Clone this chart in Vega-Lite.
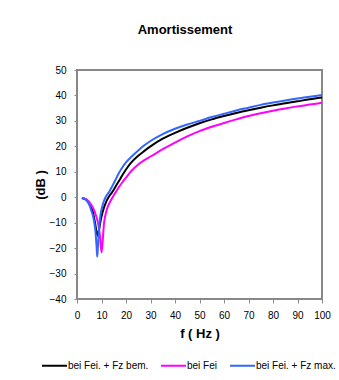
{
  "$schema": "https://vega.github.io/schema/vega-lite/v6.json",
  "autosize": {"type": "none"},
  "width": 245,
  "height": 229,
  "padding": {"left": 77, "top": 70, "right": 17, "bottom": 81},
  "background": "white",
  "title": {"text": "Amortissement", "font": "Liberation Sans", "fontSize": 13, "fontWeight": "bold", "color": "black", "anchor": "middle", "frame": "bounds", "offset": 28},
  "config": {
    "view": {"stroke": "#888888", "strokeWidth": 2},
    "axis": {"labelFont": "Liberation Sans", "titleFont": "Liberation Sans", "labelFontSize": 10, "titleFontSize": 13, "titleFontWeight": "bold", "labelColor": "black", "titleColor": "black", "domainColor": "#888888", "tickColor": "#888888", "grid": false},
    "legend": {"labelFont": "Liberation Sans", "labelFontSize": 10, "labelColor": "black"}
  },
  "data": {"values": [
    {"f": 2, "s": "bei Fei. + Fz bem.", "v": -0.3},
    {"f": 3, "s": "bei Fei. + Fz bem.", "v": -0.6},
    {"f": 4, "s": "bei Fei. + Fz bem.", "v": -1.1},
    {"f": 5, "s": "bei Fei. + Fz bem.", "v": -2.2},
    {"f": 5.5, "s": "bei Fei. + Fz bem.", "v": -3.1},
    {"f": 6, "s": "bei Fei. + Fz bem.", "v": -4.3},
    {"f": 6.5, "s": "bei Fei. + Fz bem.", "v": -5.9},
    {"f": 7, "s": "bei Fei. + Fz bem.", "v": -8.2},
    {"f": 7.5, "s": "bei Fei. + Fz bem.", "v": -10.9},
    {"f": 8, "s": "bei Fei. + Fz bem.", "v": -13.6},
    {"f": 8.5, "s": "bei Fei. + Fz bem.", "v": -15.1},
    {"f": 9, "s": "bei Fei. + Fz bem.", "v": -12.8},
    {"f": 9.5, "s": "bei Fei. + Fz bem.", "v": -10.0},
    {"f": 10, "s": "bei Fei. + Fz bem.", "v": -7.6},
    {"f": 10.5, "s": "bei Fei. + Fz bem.", "v": -5.7},
    {"f": 11, "s": "bei Fei. + Fz bem.", "v": -4.1},
    {"f": 11.5, "s": "bei Fei. + Fz bem.", "v": -2.8},
    {"f": 12, "s": "bei Fei. + Fz bem.", "v": -1.6},
    {"f": 13, "s": "bei Fei. + Fz bem.", "v": 0.2},
    {"f": 14, "s": "bei Fei. + Fz bem.", "v": 1.5},
    {"f": 15, "s": "bei Fei. + Fz bem.", "v": 2.9},
    {"f": 16, "s": "bei Fei. + Fz bem.", "v": 4.6},
    {"f": 17, "s": "bei Fei. + Fz bem.", "v": 6.2},
    {"f": 18, "s": "bei Fei. + Fz bem.", "v": 7.8},
    {"f": 19, "s": "bei Fei. + Fz bem.", "v": 9.4},
    {"f": 20, "s": "bei Fei. + Fz bem.", "v": 10.9},
    {"f": 22, "s": "bei Fei. + Fz bem.", "v": 13.5},
    {"f": 25, "s": "bei Fei. + Fz bem.", "v": 16.3},
    {"f": 27.5, "s": "bei Fei. + Fz bem.", "v": 18.2},
    {"f": 30, "s": "bei Fei. + Fz bem.", "v": 20.0},
    {"f": 35, "s": "bei Fei. + Fz bem.", "v": 23.0},
    {"f": 40, "s": "bei Fei. + Fz bem.", "v": 25.3},
    {"f": 45, "s": "bei Fei. + Fz bem.", "v": 27.3},
    {"f": 50, "s": "bei Fei. + Fz bem.", "v": 29.1},
    {"f": 55, "s": "bei Fei. + Fz bem.", "v": 30.6},
    {"f": 60, "s": "bei Fei. + Fz bem.", "v": 31.9},
    {"f": 65, "s": "bei Fei. + Fz bem.", "v": 33.1},
    {"f": 70, "s": "bei Fei. + Fz bem.", "v": 34.2},
    {"f": 75, "s": "bei Fei. + Fz bem.", "v": 35.2},
    {"f": 80, "s": "bei Fei. + Fz bem.", "v": 36.1},
    {"f": 85, "s": "bei Fei. + Fz bem.", "v": 36.9},
    {"f": 90, "s": "bei Fei. + Fz bem.", "v": 37.7},
    {"f": 95, "s": "bei Fei. + Fz bem.", "v": 38.5},
    {"f": 100, "s": "bei Fei. + Fz bem.", "v": 39.2},

    {"f": 2, "s": "bei Fei", "v": -0.2},
    {"f": 3, "s": "bei Fei", "v": -0.5},
    {"f": 4, "s": "bei Fei", "v": -1.0},
    {"f": 5, "s": "bei Fei", "v": -1.9},
    {"f": 5.5, "s": "bei Fei", "v": -2.6},
    {"f": 6, "s": "bei Fei", "v": -3.3},
    {"f": 6.5, "s": "bei Fei", "v": -4.2},
    {"f": 7, "s": "bei Fei", "v": -5.2},
    {"f": 7.5, "s": "bei Fei", "v": -6.5},
    {"f": 8, "s": "bei Fei", "v": -8.0},
    {"f": 8.5, "s": "bei Fei", "v": -9.8},
    {"f": 9, "s": "bei Fei", "v": -12.5},
    {"f": 9.5, "s": "bei Fei", "v": -16.5},
    {"f": 10, "s": "bei Fei", "v": -21.7},
    {"f": 10.5, "s": "bei Fei", "v": -17.0},
    {"f": 11, "s": "bei Fei", "v": -10.5},
    {"f": 11.5, "s": "bei Fei", "v": -7.5},
    {"f": 12, "s": "bei Fei", "v": -5.4},
    {"f": 12.5, "s": "bei Fei", "v": -3.9},
    {"f": 13, "s": "bei Fei", "v": -2.8},
    {"f": 14, "s": "bei Fei", "v": -0.9},
    {"f": 15, "s": "bei Fei", "v": 0.8},
    {"f": 16, "s": "bei Fei", "v": 2.3},
    {"f": 17, "s": "bei Fei", "v": 3.8},
    {"f": 18, "s": "bei Fei", "v": 5.2},
    {"f": 19, "s": "bei Fei", "v": 6.5},
    {"f": 20, "s": "bei Fei", "v": 7.7},
    {"f": 22, "s": "bei Fei", "v": 10.1},
    {"f": 25, "s": "bei Fei", "v": 12.9},
    {"f": 27.5, "s": "bei Fei", "v": 14.6},
    {"f": 30, "s": "bei Fei", "v": 16.0},
    {"f": 35, "s": "bei Fei", "v": 18.9},
    {"f": 40, "s": "bei Fei", "v": 21.5},
    {"f": 45, "s": "bei Fei", "v": 23.9},
    {"f": 50, "s": "bei Fei", "v": 26.0},
    {"f": 55, "s": "bei Fei", "v": 27.7},
    {"f": 60, "s": "bei Fei", "v": 29.2},
    {"f": 65, "s": "bei Fei", "v": 30.6},
    {"f": 70, "s": "bei Fei", "v": 31.9},
    {"f": 75, "s": "bei Fei", "v": 33.0},
    {"f": 80, "s": "bei Fei", "v": 34.0},
    {"f": 85, "s": "bei Fei", "v": 34.9},
    {"f": 90, "s": "bei Fei", "v": 35.7},
    {"f": 95, "s": "bei Fei", "v": 36.4},
    {"f": 100, "s": "bei Fei", "v": 37.1},

    {"f": 2, "s": "bei Fei. + Fz max.", "v": -0.3},
    {"f": 3, "s": "bei Fei. + Fz max.", "v": -0.7},
    {"f": 4, "s": "bei Fei. + Fz max.", "v": -1.4},
    {"f": 5, "s": "bei Fei. + Fz max.", "v": -3.0},
    {"f": 5.5, "s": "bei Fei. + Fz max.", "v": -4.3},
    {"f": 6, "s": "bei Fei. + Fz max.", "v": -5.7},
    {"f": 6.5, "s": "bei Fei. + Fz max.", "v": -7.3},
    {"f": 7, "s": "bei Fei. + Fz max.", "v": -9.6},
    {"f": 7.5, "s": "bei Fei. + Fz max.", "v": -13.0},
    {"f": 8, "s": "bei Fei. + Fz max.", "v": -19.5},
    {"f": 8.25, "s": "bei Fei. + Fz max.", "v": -23.4},
    {"f": 8.5, "s": "bei Fei. + Fz max.", "v": -20.0},
    {"f": 9, "s": "bei Fei. + Fz max.", "v": -12.5},
    {"f": 9.5, "s": "bei Fei. + Fz max.", "v": -7.5},
    {"f": 10, "s": "bei Fei. + Fz max.", "v": -4.8},
    {"f": 10.5, "s": "bei Fei. + Fz max.", "v": -3.0},
    {"f": 11, "s": "bei Fei. + Fz max.", "v": -1.5},
    {"f": 11.5, "s": "bei Fei. + Fz max.", "v": -0.3},
    {"f": 12, "s": "bei Fei. + Fz max.", "v": 0.6},
    {"f": 13, "s": "bei Fei. + Fz max.", "v": 1.9},
    {"f": 14, "s": "bei Fei. + Fz max.", "v": 3.6},
    {"f": 15, "s": "bei Fei. + Fz max.", "v": 5.5},
    {"f": 16, "s": "bei Fei. + Fz max.", "v": 7.4},
    {"f": 17, "s": "bei Fei. + Fz max.", "v": 9.3},
    {"f": 18, "s": "bei Fei. + Fz max.", "v": 11.0},
    {"f": 19, "s": "bei Fei. + Fz max.", "v": 12.4},
    {"f": 20, "s": "bei Fei. + Fz max.", "v": 13.7},
    {"f": 22, "s": "bei Fei. + Fz max.", "v": 15.7},
    {"f": 25, "s": "bei Fei. + Fz max.", "v": 18.4},
    {"f": 27.5, "s": "bei Fei. + Fz max.", "v": 20.4},
    {"f": 30, "s": "bei Fei. + Fz max.", "v": 22.1},
    {"f": 35, "s": "bei Fei. + Fz max.", "v": 24.8},
    {"f": 40, "s": "bei Fei. + Fz max.", "v": 26.9},
    {"f": 45, "s": "bei Fei. + Fz max.", "v": 28.6},
    {"f": 50, "s": "bei Fei. + Fz max.", "v": 30.0},
    {"f": 55, "s": "bei Fei. + Fz max.", "v": 31.5},
    {"f": 60, "s": "bei Fei. + Fz max.", "v": 32.8},
    {"f": 65, "s": "bei Fei. + Fz max.", "v": 34.1},
    {"f": 70, "s": "bei Fei. + Fz max.", "v": 35.2},
    {"f": 75, "s": "bei Fei. + Fz max.", "v": 36.3},
    {"f": 80, "s": "bei Fei. + Fz max.", "v": 37.2},
    {"f": 85, "s": "bei Fei. + Fz max.", "v": 38.0},
    {"f": 90, "s": "bei Fei. + Fz max.", "v": 38.8},
    {"f": 95, "s": "bei Fei. + Fz max.", "v": 39.5},
    {"f": 100, "s": "bei Fei. + Fz max.", "v": 40.2}
  ]},
  "mark": {"type": "line", "strokeWidth": 2, "interpolate": "monotone", "clip": true},
  "encoding": {
    "x": {"field": "f", "type": "quantitative", "scale": {"domain": [0, 100], "nice": false, "zero": false},
      "axis": {"title": "f ( Hz )", "values": [0,10,20,30,40,50,60,70,80,90,100], "tickSize": 4, "labelPadding": 7, "titlePadding": 7, "labelFlush": false, "labelOverlap": false}},
    "y": {"field": "v", "type": "quantitative", "scale": {"domain": [-40, 50], "nice": false, "zero": false},
      "axis": {"title": "(dB )", "values": [-40,-30,-20,-10,0,10,20,30,40,50], "tickSize": 3, "labelPadding": 8, "titlePadding": 2, "labelFlush": false, "labelOverlap": false}},
    "color": {"field": "s", "type": "nominal",
      "scale": {"domain": ["bei Fei. + Fz bem.", "bei Fei", "bei Fei. + Fz max."], "range": ["#000000", "#FF00FF", "#3366FF"]},
      "legend": {"title": null, "orient": "none", "legendX": -36, "legendY": 282, "direction": "horizontal", "symbolType": "stroke", "symbolSize": 625, "symbolStrokeWidth": 2, "columnPadding": 8, "labelOffset": 0}}
  }
}
